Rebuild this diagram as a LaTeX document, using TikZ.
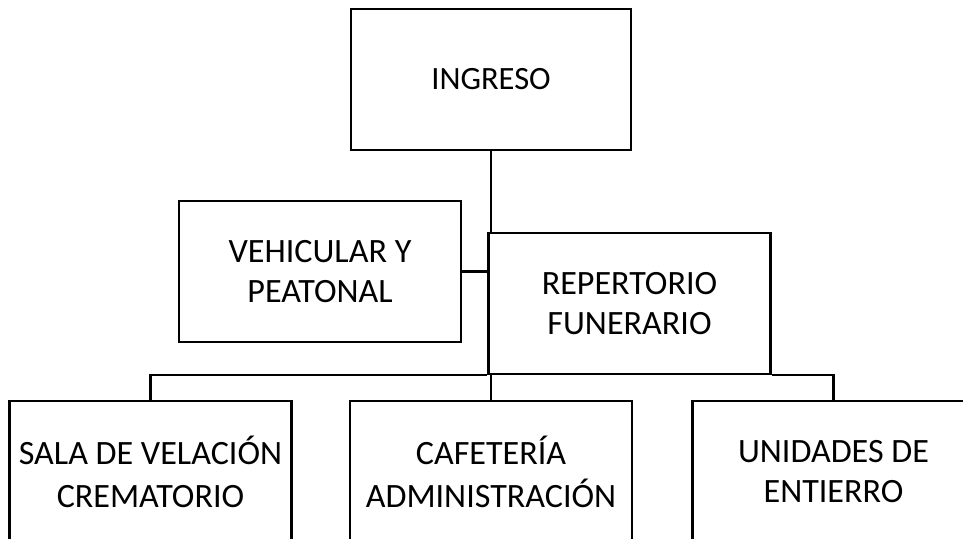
\documentclass[tikz,border=0pt]{standalone}
\usepackage{fontspec}
\setmainfont{Carlito}
\usepackage{tikz}

\begin{document}
\begin{tikzpicture}[
    block/.style={draw=black,line width=1.5pt,minimum width=5.64cm,
        minimum height=2.82cm,inner sep=0pt,align=center,
        font={\fontsize{19.4}{22.5}\selectfont}},
    link/.style={draw=black,line width=1.3pt},
    ]
    \useasboundingbox (0,0) rectangle (19.26,10.78);
    \clip (0,0) rectangle (19.26,10.78);

    % top
    \node[block,minimum width=5.6cm,font={\fontsize{18.5}{22}\selectfont}]
        (ingreso) at (9.82,9.19) {INGRESO};

    % middle
    \node[block] (vehicular) at (6.40,5.35) {VEHICULAR Y\\PEATONAL};
    \node[block] (repertorio) at (12.59,4.71) {REPERTORIO\\FUNERARIO};

    % bottom row, cut by the lower edge
    \node[block] (sala) at (3.01,1.35) {SALA DE VELACIÓN\\[2pt]CREMATORIO};
    \node[block] (cafeteria) at (9.82,1.35) {CAFETERÍA\\[2pt]ADMINISTRACIÓN};
    \node[block] (unidades) at (16.67,1.35) {UNIDADES DE\\ENTIERRO};

    % connectors
    \draw[link] (ingreso.south) -- (ingreso.south |- repertorio.north);
    \draw[link] (vehicular.east) -- (vehicular.east -| repertorio.west);
    \draw[link] (sala.north) |- (repertorio.south west);
    \draw[link] (unidades.north) |- (repertorio.south east);
    \draw[link] (cafeteria.north |- repertorio.south) -- (cafeteria.north);
\end{tikzpicture}
\end{document}
